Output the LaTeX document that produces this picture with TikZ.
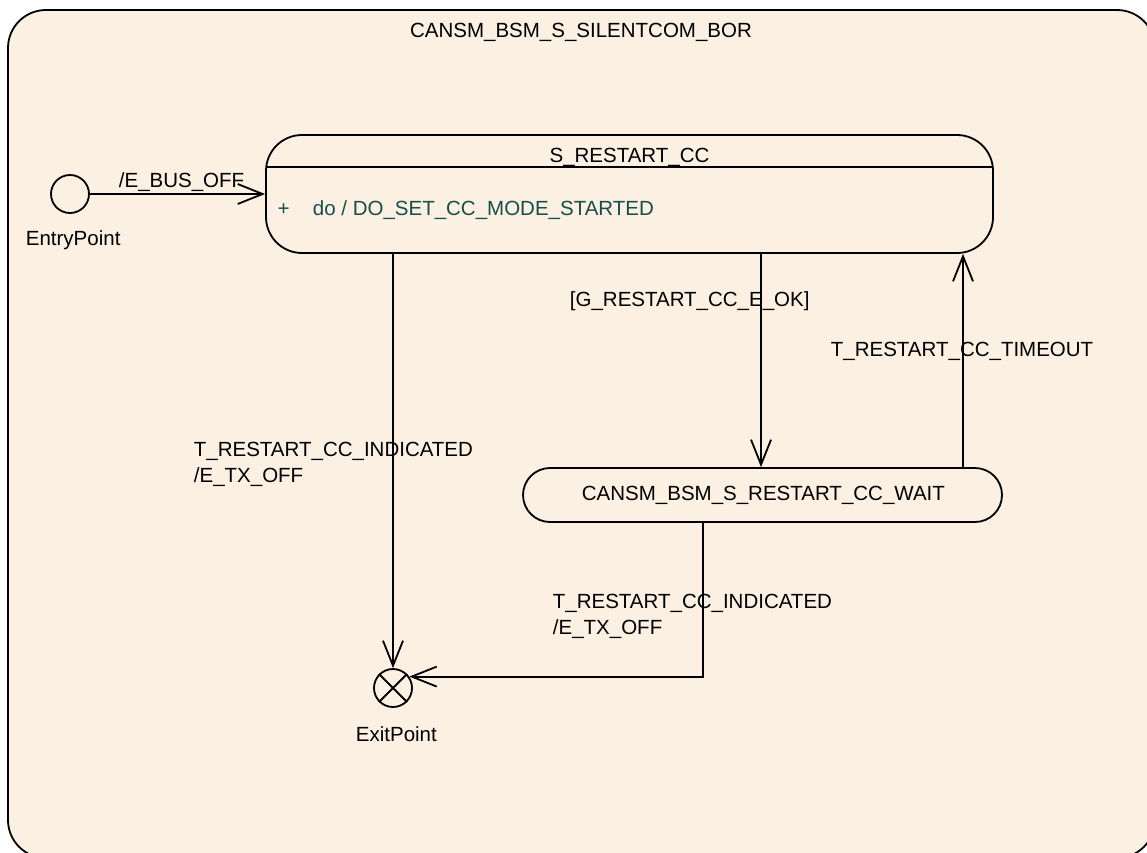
\documentclass[tikz,border=0pt]{standalone}
\usepackage{fontspec}
\setmainfont{Liberation Sans}
\usetikzlibrary{arrows.meta}
\definecolor{bgfill}{RGB}{251,240,226}
\definecolor{dotext}{RGB}{22,78,78}
\begin{document}
\begin{tikzpicture}[x=1pt,y=-1pt,line width=1.8pt,
  txt/.style={font=\fontsize{20.5}{26}\selectfont, inner sep=0pt},
  tr/.style={draw, -{Straight Barb[length=25pt,width=20pt,line width=1.8pt]}},
  pseudo/.style={circle, draw, fill=bgfill, minimum size=38pt, inner sep=0pt},
  statebox/.style={draw, fill=bgfill, inner sep=0pt}]
\useasboundingbox (0,0) rectangle (1147,852);
\begin{scope}
  \clip (0,0) rectangle (1147,852);
  \draw[fill=bgfill, rounded corners=38pt] (8,10) rectangle (1155,858);
\end{scope}
\node[txt, anchor=base] (title) at (581,37) {CANSM\_BSM\_S\_SILENTCOM\_BOR};

% states
\node[statebox, rounded corners=36pt, minimum width=727pt, minimum height=118pt] (restart) at (629.5,194) {};
\draw (266,167) -- (993,167);
\node[txt, anchor=base] (restarttitle) at (629.5,162) {S\_RESTART\_CC};
\node[txt, anchor=base, text=dotext] (plus) at (283.5,215) {+};
\node[txt, anchor=base west, text=dotext] (doact) at (312,215) {do / DO\_SET\_CC\_MODE\_STARTED};

\node[statebox, rounded corners=27pt, minimum width=479pt, minimum height=54pt] (wait) at (762.5,495) {};
\node[txt, anchor=base west] (waittext) at (581,500) {CANSM\_BSM\_S\_RESTART\_CC\_WAIT};

% pseudo states
\node[pseudo] (entry) at (70,194) {};
\node[txt, anchor=base west] (entrylabel) at (25,245) {EntryPoint};
\node[pseudo] (exit) at (393,688) {};
\draw[line width=1.8pt] (exit.north west) -- (exit.south east) (exit.north east) -- (exit.south west);
\node[txt, anchor=base west] (exitlabel) at (355,741) {ExitPoint};

% helper coordinates
\coordinate (gx) at (761,0);
\coordinate (tx) at (963,0);
\coordinate (ex) at (703,0);

% transitions
\draw[tr] (entry.east) -- (entry.east -| restart.west);
\node[txt, anchor=base west] (busoff) at (118,187) {/E\_BUS\_OFF};

\draw[tr] (restart.south -| exit) -- (exit.north);
\node[txt, anchor=base west] (ind1a) at (193,456) {T\_RESTART\_CC\_INDICATED};
\node[txt, anchor=base west] (ind1b) at (193,482) {/E\_TX\_OFF};

\draw[tr] (restart.south -| gx) -- (wait.north -| gx);
\node[txt, anchor=base west] (guard) at (569,306) {[G\_RESTART\_CC\_E\_OK]};

\draw[tr] (wait.north -| tx) -- (restart.south -| tx);
\node[txt, anchor=base west] (timeout) at (830,356) {T\_RESTART\_CC\_TIMEOUT};

\draw[tr] (wait.south -| ex) |- (exit.35);
\node[txt, anchor=base west] (ind2a) at (552,608) {T\_RESTART\_CC\_INDICATED};
\node[txt, anchor=base west] (ind2b) at (552,634) {/E\_TX\_OFF};
\end{tikzpicture}
\end{document}
